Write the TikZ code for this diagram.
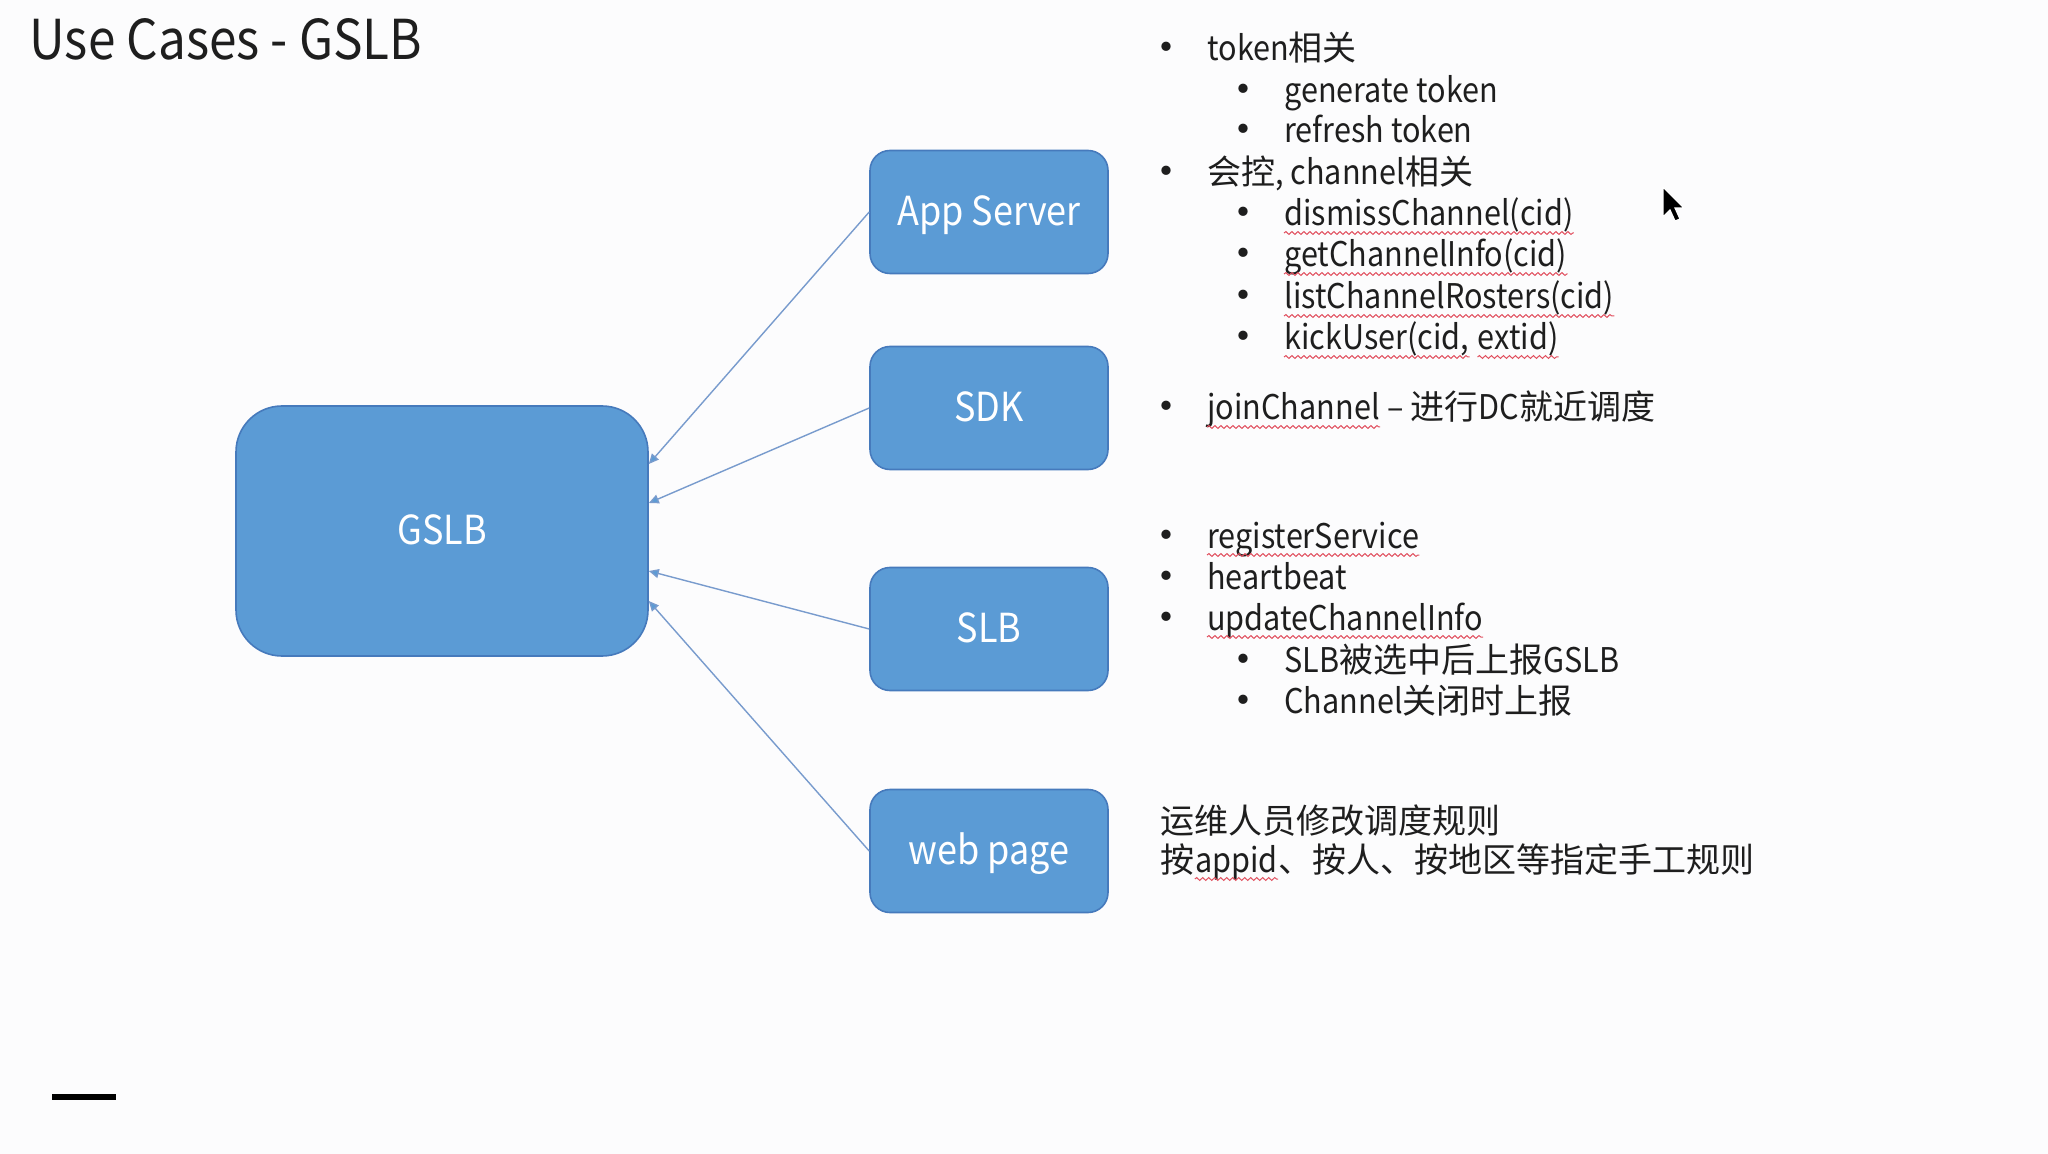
\documentclass[tikz,border=0pt]{standalone}
\usepackage{fontspec}
\setmainfont{Noto Sans CJK SC}[FakeStretch=0.9]
\newfontfamily\cjk{Noto Sans CJK SC}
\usepackage{tikz}
\usetikzlibrary{arrows.meta, calc, decorations.pathmorphing}
\usepackage{xcolor}
\definecolor{boxblue}{RGB}{91,155,213}
\definecolor{boxedge}{RGB}{70,122,188}
\definecolor{linkblue}{RGB}{120,155,205}
\definecolor{ink}{RGB}{30,30,30}
\definecolor{spellred}{RGB}{225,80,95}
\definecolor{paper}{RGB}{252,252,253}
\newcommand{\bul}{\llap{\makebox[0pt][c]{\smash{\raisebox{-1.5pt}{\cjk\fontsize{22pt}{22pt}\selectfont\textbullet}}}\hspace{20.5pt}}}

\tikzset{
  box/.style={rounded corners=10pt, fill=boxblue, draw=boxedge, line width=0.8pt, text=white,
    minimum width=119pt, minimum height=61.5pt, text height=15pt, text depth=1.8pt,
    font=\fontsize{20pt}{24pt}\selectfont},
  link/.style={linkblue, line width=0.7pt, -{Triangle[length=5pt, width=4.5pt, fill=boxblue]}},
  item/.style={anchor=base west, inner sep=0pt, text=ink, font=\fontsize{17pt}{20pt}\selectfont},
  wave/.style={spellred, line width=0.5pt, decorate, decoration={snake, amplitude=0.7pt, segment length=3pt}},
}
% wavy spell mark under a node
\newcommand{\spell}[1]{\draw[wave] ([yshift=-3.5pt]#1.base west) -- ([yshift=-3.5pt]#1.base east);}

\begin{document}
\begin{tikzpicture}[x=0.5pt, y=-0.5pt]
  \fill[paper] (0,0) rectangle (2048,1154);
  \useasboundingbox (0,0) rectangle (2048,1154);

  \node[anchor=west, inner sep=0pt, text=ink, font=\fontsize{27.5pt}{30pt}\selectfont] (title) at (29,39) {Use Cases - GSLB};

  % boxes
  \node[box, rounded corners=23pt, minimum width=206pt, minimum height=125pt] (gslb) at (442,531) {GSLB};
  \node[box] (app) at (989,212) {App Server};
  \node[box] (sdk) at (989,408) {SDK};
  \node[box] (slb) at (989,629) {SLB};
  \node[box] (web) at (989,851) {web page};

  % calls into GSLB
  \draw[link] (app.west) -- ($(gslb.east)+(0,-67)$);
  \draw[link] (sdk.west) -- ($(gslb.east)+(0,-28)$);
  \draw[link] (slb.west) -- ($(gslb.east)+(0,40)$);
  \draw[link] (web.west) -- ($(gslb.east)+(0,70)$);

  % App Server
  \node[item] (tok) at (1207,61) {\bul token{\cjk 相关}};
  \node[item] (tokgen) at (1284,103) {\bul generate token};
  \node[item] (tokref) at (1284,143) {\bul refresh token};
  \node[item] (chan) at (1207,185) {\bul {\cjk 会控}, channel{\cjk 相关}};
  \node[item] (chdis) at (1284,226) {\bul dismissChannel(cid)};
  \node[item] (chget) at (1284,267) {\bul getChannelInfo(cid)};
  \node[item] (chlist) at (1284,309) {\bul listChannelRosters(cid)};
  \node[item] (chkick) at (1284,350) {\bul kickUser(cid,};
  \node[item] (chkick2) at ([xshift=4pt]chkick.base east) {extid)};
  % SDK
  \node[item] (join) at (1207,420) {\bul joinChannel};
  \node[item] (join2) at (join.base east) {\ – {\cjk 进行}DC{\cjk 就近调度}};
  % SLB
  \node[item] (reg) at (1207,548) {\bul registerService};
  \node[item] (beat) at (1207,589) {\bul heartbeat};
  \node[item] (upd) at (1207,630) {\bul updateChannelInfo};
  \node[item] (updsel) at (1284,672) {\bul SLB{\cjk 被选中后上报}GSLB};
  \node[item] (updclose) at (1284,713) {\bul Channel{\cjk 关闭时上报}};
  % web page
  \node[item] (ops) at (1160,833) {\cjk 运维人员修改调度规则};
  \node[item] (rules) at (1160,872) {\cjk 按};
  \node[item] (rules2) at (rules.base east) {appid};
  \node[item] (rules3) at (rules2.base east) {\cjk 、按人、按地区等指定手工规则};

  \spell{chdis} \spell{chget} \spell{chlist} \spell{chkick} \spell{chkick2}
  \spell{join} \spell{reg} \spell{upd} \spell{rules2}

  % pointer and bar
  \filldraw[black, draw=white, line width=0.6pt, shift={(1663,187)}]
    (0,0) -- (0,30) -- (7,23) -- (12,34) -- (17,32) -- (12,21) -- (21,21) -- cycle;
  \draw[black, line width=3pt] (52,1097) -- (116,1097);
\end{tikzpicture}
\end{document}
